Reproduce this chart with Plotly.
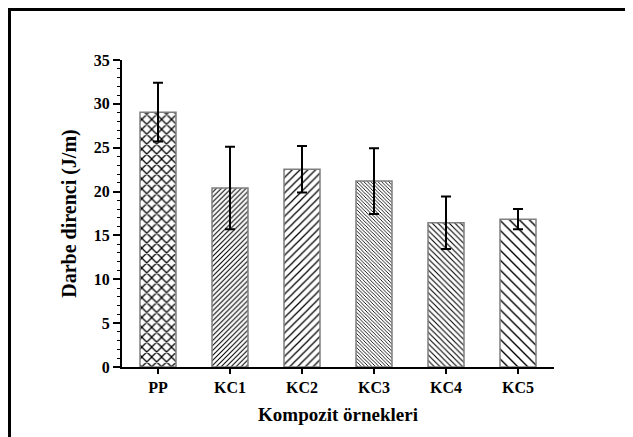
import plotly.graph_objects as go

categories = ["PP", "KC1", "KC2", "KC3", "KC4", "KC5"]
values = [29.05, 20.4, 22.55, 21.2, 16.45, 16.85]
errors = [3.35, 4.7, 2.65, 3.75, 3.0, 1.15]
pattern_shapes = ["x", "/", "/", "\\", "\\", "\\"]
pattern_sizes = [7, 3.5, 5.5, 2.5, 4, 7]
pattern_solidity = [0.32, 0.3, 0.22, 0.35, 0.28, 0.2]
y_tick_vals = [0, 5, 10, 15, 20, 25, 30, 35]

font_family = "Liberation Serif, Times New Roman, serif"

# page offset (body margin) of 8px is accounted for in the margins
L, T, W, H = 114, 52, 432, 307

fig = go.Figure()
fig.add_trace(go.Bar(
    x=list(range(len(categories))),
    y=values,
    width=0.5,
    marker=dict(
        color="white",
        line=dict(color="#7f7f7f", width=1.5),
        pattern=dict(shape=pattern_shapes, size=pattern_sizes, solidity=pattern_solidity,
                     fgcolor="black", bgcolor="white", fillmode="replace"),
    ),
    error_y=dict(type="data", array=errors, visible=True, color="black",
                 thickness=2, width=5),
    showlegend=False,
))

fig.update_layout(
    width=633, height=437,
    margin=dict(l=L, r=633 - L - W, t=T, b=437 - T - H),
    paper_bgcolor="white", plot_bgcolor="white",
    font=dict(family=font_family, color="black"),
    xaxis=dict(
        range=[-0.5, 5.5],
        tickmode="array", tickvals=list(range(len(categories))), ticktext=categories,
        showline=True, linecolor="black", linewidth=2,
        ticks="outside", ticklen=5, tickwidth=1.5, tickcolor="black",
        showgrid=False, zeroline=False,
        tickfont=dict(family=font_family, size=16, color="black", weight="bold"),
        title=dict(text="<b>Kompozit örnekleri</b>", standoff=12,
                   font=dict(family=font_family, size=19, color="black")),
    ),
    yaxis=dict(
        range=[0, 35],
        tickmode="array", tickvals=y_tick_vals,
        showline=True, linecolor="black", linewidth=2,
        ticks="outside", ticklen=7, tickwidth=1.5, tickcolor="black",
        ticklabelstandoff=0,
        minor=dict(dtick=1, ticks="outside", ticklen=3.5, tickwidth=1, tickcolor="black"),
        showgrid=False, zeroline=False,
        tickfont=dict(family=font_family, size=16, color="black", weight="bold"),
        title=dict(text="<b>Darbe direnci (J/m)</b>", standoff=12,
                   font=dict(family=font_family, size=20, color="black")),
    ),
    shapes=[
        dict(type="line", xref="paper", yref="paper",
             x0=(0 - L) / W, x1=(640 - L) / W,
             y0=(T + H - 1.5) / H, y1=(T + H - 1.5) / H,
             line=dict(color="black", width=3)),
        dict(type="line", xref="paper", yref="paper",
             x0=(1.5 - L) / W, x1=(1.5 - L) / W,
             y0=(T + H) / H, y1=-(437 - T - H + 10) / H,
             line=dict(color="black", width=3)),
    ],
)

fig.write_html("out.html")
